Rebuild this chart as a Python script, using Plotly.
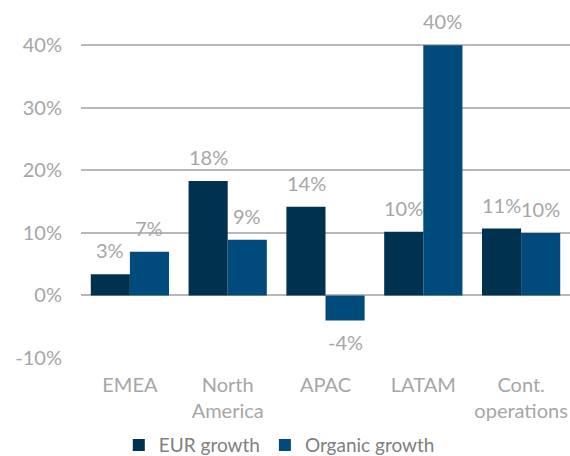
import plotly.graph_objects as go

categories = ["EMEA", "North<br>America", "APAC", "LATAM", "Cont.<br>operations"]
eur_growth = [3.4, 18.3, 14.2, 10.2, 10.7]
organic_growth = [7.0, 8.9, -4.0, 40.0, 10.0]
y_ticks = [-10, 0, 10, 20, 30, 40]
y_tick_labels = ["-10%", "0%", "10%", "20%", "30%", "40%"]

FONT = "Lato"
GRAY = "#a6a6a6"
C_EUR = "#00324f"
C_ORG = "#004a7c"

fig = go.Figure()
fig.add_trace(go.Bar(x=categories, y=eur_growth, name="EUR growth",
                     marker=dict(color=C_EUR, line=dict(width=0))))
fig.add_trace(go.Bar(x=categories, y=organic_growth, name="Organic growth",
                     marker=dict(color=C_ORG, line=dict(width=0))))

annotations = []
for series, shift in ((eur_growth, -19.5), (organic_growth, 19.5)):
    for c, v in zip(categories, series):
        annotations.append(dict(
            x=c, y=v, xref="x", yref="y", text=f"{round(v):.0f}%",
            showarrow=False, xshift=shift, yshift=24 if v >= 0 else -22,
            font=dict(family=FONT, size=20, color=GRAY),
            xanchor="center", yanchor="middle"))

fig.update_layout(
    width=570, height=456,
    margin=dict(l=81, r=0, t=14, b=98, autoexpand=False),
    paper_bgcolor="white", plot_bgcolor="white",
    barmode="group", bargap=0.2, bargroupgap=0,
    font=dict(family=FONT, size=20, color=GRAY),
    showlegend=True,
    legend=dict(orientation="h", xref="container", yref="container",
                x=0.49, xanchor="center", y=0.024, yanchor="middle",
                font=dict(family=FONT, size=19, color="#808080"),
                itemwidth=30, traceorder="normal"),
    annotations=annotations,
)
fig.update_xaxes(showline=False, showgrid=False, ticks="", ticklabelstandoff=13,
                 automargin=False,
                 tickfont=dict(family=FONT, size=20, color=GRAY))
fig.update_yaxes(range=[-10, 45], tickvals=y_ticks, ticktext=y_tick_labels,
                 showgrid=True, gridcolor="#b8b8b8", gridwidth=1.5,
                 zeroline=True, zerolinecolor="#b8b8b8", zerolinewidth=1.5,
                 showline=False, ticks="", ticklabelstandoff=18, automargin=False,
                 tickfont=dict(family=FONT, size=20, color=GRAY))

fig.write_html("out.html", config={"displayModeBar": False},
               post_script="document.body.style.margin='0';document.body.style.overflow='hidden';")
